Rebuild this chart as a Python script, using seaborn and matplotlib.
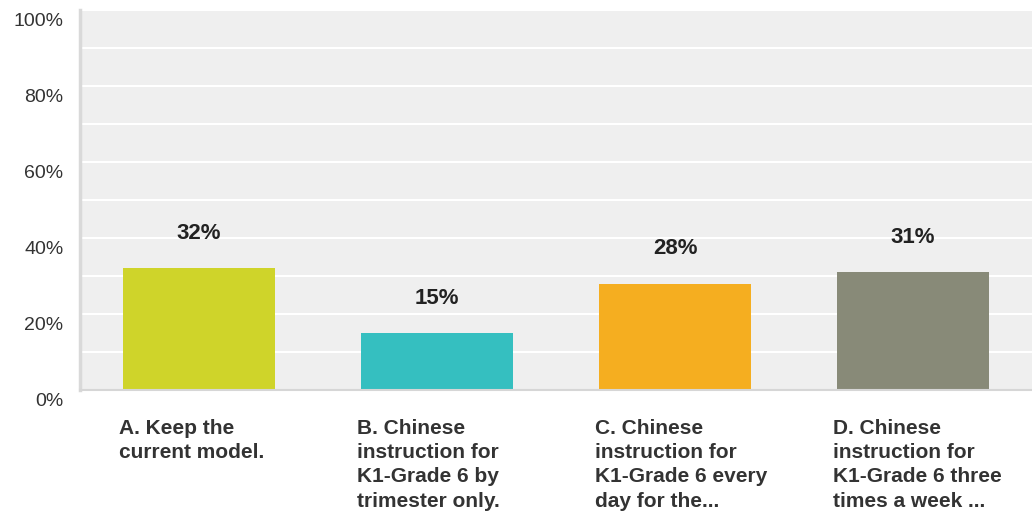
import matplotlib.pyplot as plt
import matplotlib.transforms as mtransforms
import seaborn as sns
import pandas as pd

# Survey answers and share of responses
options = ['A', 'B', 'C', 'D']
labels = [
    'A. Keep the\ncurrent model.',
    'B. Chinese\ninstruction for\nK1-Grade 6 by\ntrimester only.',
    'C. Chinese\ninstruction for\nK1-Grade 6 every\nday for the...',
    'D. Chinese\ninstruction for\nK1-Grade 6 three\ntimes a week ...',
]
shares = [32, 15, 28, 31]
colors = ['#cfd42a', '#35bfc0', '#f5ae20', '#888a78']

df = pd.DataFrame({'option': options, 'share': shares})

sns.set_style('white')
plt.rcParams['font.family'] = ['Liberation Sans', 'DejaVu Sans']

fig = plt.figure(figsize=(10.32, 5.14), dpi=100)
ax = fig.add_axes([80 / 1032, 124 / 514, 952 / 1032, 380 / 514])

sns.barplot(x='option', y='share', data=df, hue='option', palette=colors,
            width=0.64, legend=False, ax=ax, saturation=1, linewidth=0)

ax.set_facecolor('#efefef')
ax.set_ylim(0, 100)
ax.set_xlim(-0.5, 3.5)
ax.set_axisbelow(True)
ax.set_yticks(range(0, 101, 20))
ax.set_yticks(range(10, 100, 20), minor=True)
ax.yaxis.grid(True, which='both', color='white', linewidth=1.5)
ax.set_yticklabels([f'{v}%' for v in range(0, 101, 20)], fontsize=14, color='#333333')
ax.tick_params(axis='y', which='both', length=0, pad=12)
offset = mtransforms.ScaledTranslation(0, -10 / 100, fig.dpi_scale_trans)
for t in ax.get_yticklabels():
    t.set_transform(t.get_transform() + offset)

for side in ['top', 'right']:
    ax.spines[side].set_visible(False)
ax.spines['left'].set_color('#d9d9d9')
ax.spines['left'].set_linewidth(2.5)
ax.spines['bottom'].set_color('#d6d6d6')
ax.spines['bottom'].set_linewidth(1.5)

ax.set_xticks(range(len(options)))
ax.set_xticklabels([])
ax.tick_params(axis='x', length=0)
ax.set_xlabel('')
ax.set_ylabel('')

# category labels, left-aligned with the bar edge
for i, lab in enumerate(labels):
    ax.text(i - 0.335, -0.075, lab, transform=ax.get_xaxis_transform(),
            ha='left', va='top', fontsize=15, fontweight='bold',
            color='#333333', linespacing=1.36)

for c in ax.containers:
    ax.bar_label(c, fmt='%.0f%%', padding=17.5,
                 fontsize=16, fontweight='bold', color='#222222')

fig.savefig('out.png', dpi=100)
